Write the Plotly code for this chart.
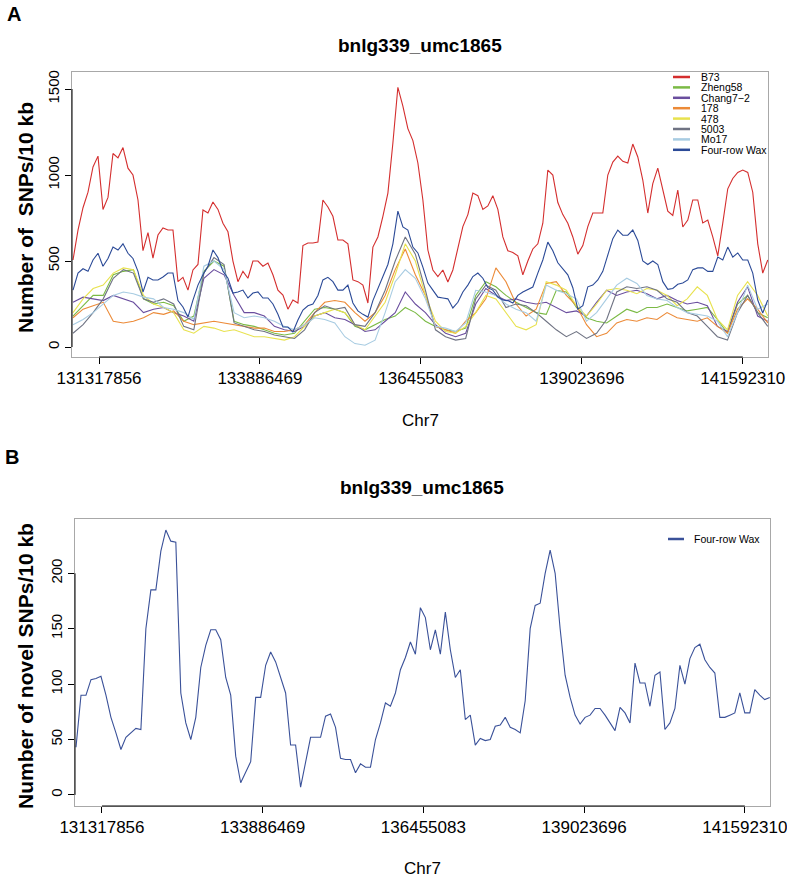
import numpy as np
import plotly.graph_objects as go

FONT = "Liberation Sans, Arial, Helvetica, sans-serif"
W, H = 787, 880

# ---------------- data ----------------
START_BP = 130.903e6
END_BP = 141.991e6
tick_vals = [131317856, 133886469, 136455083, 139023696, 141592310]
tick_text = [str(v) for v in tick_vals]

b73 = [506, 680, 810, 900, 1047, 1110, 800, 870, 1125, 1100,
       1160, 1040, 1000, 855, 560, 665, 517, 651, 692, 680,
       680, 380, 405, 331, 448, 480, 797, 779, 843, 800,
       720, 670, 500, 380, 440, 400, 500, 500, 470, 488,
       420, 331, 302, 220, 273, 256, 590, 605, 605, 610,
       855, 814, 760, 622, 622, 600, 390, 380, 360, 256,
       581, 640, 760, 895, 1186, 1510, 1400, 1270, 1200, 1070,
       855, 564, 448, 410, 448, 378, 448, 580, 700, 770,
       895, 880, 800, 820, 880, 800, 640, 560, 550, 530,
       420, 500, 570, 600, 720, 1029, 1000, 840, 770, 720,
       640, 540, 590, 700, 779, 779, 779, 1000, 1075, 1110,
       1080, 1070, 1180, 1105, 971, 779, 950, 1040, 920, 790,
       765, 913, 698, 738, 855, 855, 721, 738, 640, 530,
       720, 920, 980, 1015, 1029, 1015, 900, 600, 430, 506]

four_row_wax = [331, 430, 455, 440, 506, 545, 470, 515, 581, 564,
                600, 545, 515, 440, 320, 405, 390, 390, 407, 430,
                430, 270, 233, 174, 273, 360, 420, 470, 564, 520,
                440, 400, 314, 320, 331, 285, 314, 320, 285, 285,
                250, 190, 116, 116, 87, 157, 215, 240, 250, 300,
                390, 405, 380, 331, 331, 360, 256, 210, 190, 174,
                270, 340, 407, 480, 600, 790, 698, 680, 581, 547,
                465, 372, 331, 290, 285, 280, 227, 260, 320, 360,
                410, 430, 400, 345, 331, 290, 273, 270, 256, 300,
                320, 335, 349, 430, 506, 610, 560, 490, 455, 420,
                345, 220, 240, 350, 360, 390, 440, 540, 630, 680,
                650, 650, 680, 620, 500, 480, 500, 480, 380, 335,
                340, 365, 372, 390, 450, 460, 460, 440, 440, 523,
                506, 581, 523, 547, 506, 506, 430, 273, 198, 273]

zheng58 = [180, 240, 300, 300, 420, 440, 450, 280, 250, 260,
           240, 150, 180, 440, 500, 470, 150, 130, 120, 100,
           80, 70, 80, 150, 220, 230, 220, 200, 120, 100,
           130, 160, 180, 230, 200, 150, 120, 100, 90, 110,
           300, 380, 350, 300, 260, 230, 200, 190, 330, 320,
           230, 170, 150, 140, 180, 220, 200, 230, 230, 250,
           230, 210, 220, 230, 160, 80, 250, 300, 200, 170]

chang7_2 = [260, 290, 280, 270, 300, 280, 260, 200, 220, 230,
            200, 180, 150, 400, 450, 420, 300, 200, 200, 180,
            120, 100, 90, 120, 180, 200, 170, 160, 130, 90,
            100, 150, 200, 320, 250, 200, 130, 80, 60, 80,
            250, 340, 300, 270, 280, 260, 250, 260, 230, 200,
            210, 180, 260, 330, 300, 320, 330, 310, 280, 300,
            270, 250, 260, 240, 120, 90, 260, 350, 180, 150]

l178 = [170, 220, 240, 260, 150, 140, 150, 170, 200, 190,
        210, 150, 130, 140, 150, 140, 130, 120, 110, 110,
        90, 90, 100, 130, 200, 260, 270, 260, 200, 150,
        200, 300, 450, 570, 420, 300, 120, 100, 80, 150,
        200, 280, 460, 380, 250, 180, 220, 370, 380, 300,
        240, 130, 60, 80, 140, 160, 150, 170, 160, 200,
        170, 160, 150, 170, 120, 80, 220, 280, 220, 140]

l478 = [200, 280, 340, 360, 430, 460, 450, 300, 250, 230,
        200, 100, 80, 120, 110, 90, 100, 80, 60, 60,
        50, 40, 60, 120, 180, 200, 220, 200, 130, 100,
        180, 260, 420, 600, 500, 300, 150, 90, 80, 120,
        200, 300, 280, 200, 120, 100, 130, 380, 360, 330,
        240, 180, 250, 330, 340, 330, 310, 340, 330, 300,
        240, 280, 350, 300, 160, 100, 300, 380, 300, 180]

l5003 = [80, 130, 200, 280, 400, 450, 430, 280, 260, 280,
         250, 120, 100, 430, 520, 480, 140, 120, 100, 90,
         70, 60, 50, 100, 200, 240, 220, 230, 130, 120,
         200, 330, 500, 640, 540, 330, 100, 60, 40, 50,
         280, 360, 330, 230, 250, 240, 200, 150, 100, 60,
         90, 50, 80, 160, 320, 350, 340, 350, 330, 280,
         260, 200, 180, 120, 60, 40, 200, 300, 200, 120]

mo17 = [130, 160, 200, 250, 300, 320, 310, 290, 280, 230,
        220, 200, 160, 470, 500, 450, 200, 170, 180, 170,
        150, 120, 100, 130, 170, 160, 140, 60, 20, 10,
        40, 200, 380, 450, 400, 280, 120, 110, 90, 140,
        330, 320, 300, 250, 220, 200, 150, 360, 330, 310,
        280, 150, 200, 280, 360, 400, 370, 300, 280, 270,
        230, 200, 190, 180, 150, 60, 200, 360, 220, 250]

novel_four_row_wax = [43, 90, 90, 104, 105, 107, 90, 70, 56, 41,
                      52, 56, 60, 59, 150, 185, 185, 220, 239, 229,
                      228, 92, 65, 50, 70, 115, 135, 149, 149, 140,
                      106, 90, 35, 11, 21, 30, 88, 88, 117, 129,
                      120, 105, 92, 45, 45, 7, 30, 52, 52, 52,
                      71, 73, 61, 33, 32, 32, 20, 28, 25, 25,
                      50, 65, 83, 80, 92, 113, 124, 138, 127, 169,
                      160, 131, 149, 127, 165, 131, 106, 113, 68, 72,
                      45, 51, 49, 50, 62, 63, 70, 61, 59, 56,
                      85, 150, 171, 173, 200, 221, 200, 150, 108, 88,
                      72, 64, 70, 72, 78, 78, 72, 65, 58, 79,
                      74, 65, 119, 101, 101, 80, 108, 111, 59, 65,
                      78, 117, 100, 123, 133, 136, 122, 115, 110, 70,
                      70, 72, 74, 92, 74, 74, 95, 90, 86, 88]

series_names = ["B73", "Zheng58", "Chang7\u22122", "178", "478", "5003", "Mo17", "Four-row Wax"]
series_values = [b73, zheng58, chang7_2, l178, l478, l5003, mo17, four_row_wax]
series_colors = ["#D42E2E", "#7BBA45", "#6A4E9E", "#EC8A37", "#E8E24E", "#6F7383", "#A8CCE2", "#2B4A97"]

# ---------------- geometry (pixels) ----------------
A_L, A_R, A_T, A_B = 72, 768, 72, 357
B_L, B_R, B_T, B_B = 75, 770, 519, 806


def px(x):
    return x / W


def py(y):
    return 1 - y / H


fig = go.Figure()

for name, vals, col in zip(series_names, series_values, series_colors):
    pos = np.linspace(START_BP, END_BP, len(vals))
    fig.add_trace(go.Scatter(x=pos, y=vals, mode="lines", name=name,
                             line=dict(color=col, width=1.1),
                             xaxis="x", yaxis="y", showlegend=False))

posB = np.linspace(START_BP, END_BP, len(novel_four_row_wax))
fig.add_trace(go.Scatter(x=posB, y=novel_four_row_wax, mode="lines", name="Four-row Wax",
                         line=dict(color="#3A5199", width=1.1),
                         xaxis="x2", yaxis="y2", showlegend=False))

xr = [130.887e6, 141.995e6]
common_x = dict(range=xr, tickvals=tick_vals, ticktext=tick_text, ticks="outside",
                ticklen=6, tickcolor="black", tickwidth=1, showline=True,
                linecolor="#A8A8A8", linewidth=1, mirror=True, showgrid=False,
                zeroline=False, automargin=False, ticklabeloverflow="allow",
                tickfont=dict(family=FONT, size=17, color="black"))
common_y = dict(ticks="outside", ticklen=6, tickcolor="black", tickwidth=1, showline=True,
                linecolor="#A8A8A8", linewidth=1, mirror=True, showgrid=False,
                zeroline=False, tickangle=-90, automargin=False,
                tickfont=dict(family=FONT, size=15, color="black"))

fig.update_layout(
    width=W, height=H, margin=dict(l=0, r=0, t=0, b=0, autoexpand=False),
    paper_bgcolor="white", plot_bgcolor="white", showlegend=False,
    font=dict(family=FONT, color="black"),
    xaxis=dict(domain=[px(A_L), px(A_R)], anchor="y", **common_x),
    yaxis=dict(domain=[py(A_B), py(A_T)], anchor="x", range=[-58, 1599],
               tickvals=[0, 500, 1000, 1500], **common_y),
    xaxis2=dict(domain=[px(B_L), px(B_R)], anchor="y2", **common_x),
    yaxis2=dict(domain=[py(B_B), py(B_T)], anchor="x2", range=[-10, 249],
                tickvals=[0, 50, 100, 150, 200], **common_y),
)

shapes = []
# black axis segments (R style)
shapes.append(dict(type="line", xref="x", yref="paper", x0=tick_vals[0], x1=tick_vals[-1],
                   y0=py(A_B), y1=py(A_B), line=dict(color="black", width=1)))
shapes.append(dict(type="line", xref="paper", yref="y", x0=px(A_L), x1=px(A_L),
                   y0=0, y1=1500, line=dict(color="black", width=1)))
shapes.append(dict(type="line", xref="x2", yref="paper", x0=tick_vals[0], x1=tick_vals[-1],
                   y0=py(B_B), y1=py(B_B), line=dict(color="black", width=1)))
shapes.append(dict(type="line", xref="paper", yref="y2", x0=px(B_L), x1=px(B_L),
                   y0=0, y1=200, line=dict(color="black", width=1)))

annotations = []
# legend A
for i, (name, col) in enumerate(zip(series_names, series_colors)):
    yy = 77 + 10.4 * i
    shapes.append(dict(type="line", xref="paper", yref="paper", x0=px(673), x1=px(690),
                       y0=py(yy), y1=py(yy), line=dict(color=col, width=2.5)))
    annotations.append(dict(text=name, x=px(699), y=py(yy), xref="paper", yref="paper",
                            xanchor="left", yanchor="middle", showarrow=False,
                            font=dict(family=FONT, size=10.5, color="black")))
# legend B
shapes.append(dict(type="line", xref="paper", yref="paper", x0=px(668), x1=px(684),
                   y0=py(539), y1=py(539), line=dict(color="#3A5199", width=2.5)))
annotations.append(dict(text="Four-row Wax", x=px(692), y=py(539), xref="paper", yref="paper",
                        xanchor="left", yanchor="middle", showarrow=False,
                        font=dict(family=FONT, size=10.5, color="black")))


def ann(text, x, y, size, bold=False, angle=0, xanchor="center"):
    t = f"<b>{text}</b>" if bold else text
    annotations.append(dict(text=t, x=px(x), y=py(y), xref="paper", yref="paper",
                            xanchor=xanchor, yanchor="middle", showarrow=False, textangle=angle,
                            font=dict(family=FONT, size=size, color="black")))


ann("A", 5, 14, 20, bold=True, xanchor="left")
ann("B", 3, 457, 20, bold=True, xanchor="left")
ann("bnlg339_umc1865", 420, 45, 19, bold=True)
ann("bnlg339_umc1865", 422, 487, 19, bold=True)
ann("Number of  SNPs/10 kb", 25, 218, 21, bold=True, angle=-90)
ann("Number of novel SNPs/10 kb", 25, 666, 21, bold=True, angle=-90)
ann("Chr7", 420, 420, 17)
ann("Chr7", 422, 868, 17)

fig.update_layout(shapes=shapes, annotations=annotations)

# remove the default page margin so the 787x880 figure fills the window exactly
reset_margin = "document.body.style.margin='0';document.body.style.padding='0';"
fig.write_html("out.html", post_script=reset_margin, config={"displayModeBar": False})
